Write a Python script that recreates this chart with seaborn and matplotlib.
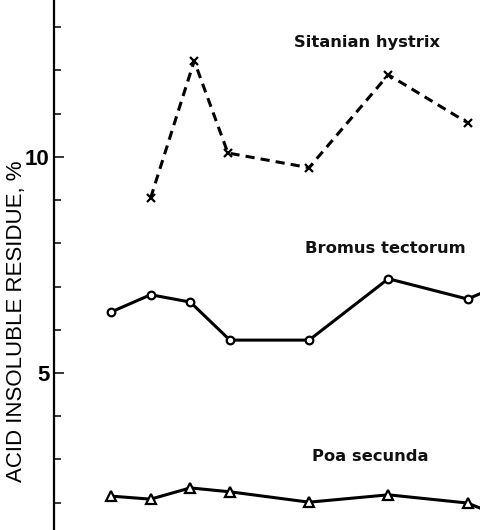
import matplotlib
matplotlib.use("Agg")
import matplotlib.pyplot as plt
from matplotlib.ticker import MultipleLocator
import numpy as np
import pandas as pd
import seaborn as sns

# Data (x = sampling position, y = % residue)
sit_x = [1, 2.1, 2.95, 5, 7, 9]
sit_y = [9.05, 12.22, 10.09, 9.75, 11.90, 10.79]

bro_x = [0, 1, 2, 3, 5, 7, 9, 10]
bro_y = [6.41, 6.81, 6.64, 5.76, 5.76, 7.18, 6.71, 7.10]

poa_x = [0, 1, 2, 3, 5, 7, 9, 10]
poa_y = [2.15, 2.08, 2.34, 2.25, 2.01, 2.18, 1.99, 1.62]

labels = ["Sitanian hystrix", "Bromus tectorum", "Poa secunda"]
label_pos = [(6.46, 12.64), (6.92, 7.89), (6.54, 3.06)]

sns.set_style("white")
plt.rcParams['font.family'] = ['DejaVu Sans']
plt.rcParams['text.color'] = 'black'

fig = plt.figure(figsize=(4.81, 5.30), dpi=100)
ax = fig.add_axes([54 / 481, 0, 1 - 54 / 481, 1])

sit = pd.DataFrame({"x": sit_x, "y": sit_y})
bro = pd.DataFrame({"x": bro_x, "y": bro_y})
poa = pd.DataFrame({"x": poa_x, "y": poa_y})

sns.lineplot(data=sit, x="x", y="y", ax=ax, color="black", lw=2.2,
             linestyle=(0, (3, 2)), marker="x", markersize=6,
             markeredgewidth=1.6, markeredgecolor="black")
sns.lineplot(data=bro, x="x", y="y", ax=ax, color="black", lw=2.2,
             marker="o", markersize=5.5, markerfacecolor="white",
             markeredgecolor="black", markeredgewidth=1.6)
sns.lineplot(data=poa, x="x", y="y", ax=ax, color="black", lw=2.2,
             marker="^", markersize=7, markerfacecolor="white",
             markeredgecolor="black", markeredgewidth=1.6)

for txt, (tx, ty) in zip(labels, label_pos):
    ax.text(tx, ty, txt, ha="center", va="center", fontsize=11.8,
            fontweight="bold", color="#111111")

ax.set_xlim(-1.44, 9.34)
ax.set_ylim(1.366, 13.63)

for s in ["top", "right", "bottom"]:
    ax.spines[s].set_visible(False)
ax.spines["left"].set_linewidth(1.6)
ax.spines["left"].set_color("black")

ax.set_xticks([])
ax.yaxis.set_major_locator(MultipleLocator(5))
ax.yaxis.set_minor_locator(MultipleLocator(1))
ax.tick_params(axis="y", which="major", direction="in", length=7.5,
               width=1.1, pad=3, labelsize=16, left=True,
               color="black", labelcolor="black")
ax.tick_params(axis="y", which="minor", direction="in", length=5,
               width=1.1, left=True, color="black")
for lab in ax.get_yticklabels():
    lab.set_fontweight("bold")
    lab.set_family("Liberation Sans")
ax.set_xlabel("")
ax.set_ylabel("")

fig.text(17 / 481, 1 - 321 / 530, "ACID INSOLUBLE RESIDUE, %",
         rotation=90, ha="center", va="center", fontsize=16,
         family="Liberation Sans", color="black")

fig.savefig("out.png", dpi=100)
